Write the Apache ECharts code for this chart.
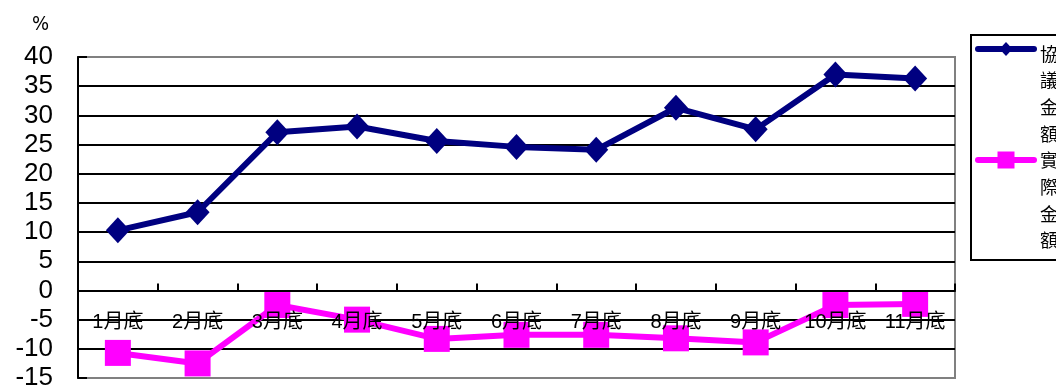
<!DOCTYPE html>
<html>
<head>
<meta charset="utf-8">
<script src="https://cdn.jsdelivr.net/npm/echarts@6/dist/echarts.min.js"></script>
<style>
html,body{margin:0;padding:0;background:#fff;}
#chart{width:1056px;height:390px;}
</style>
</head>
<body>
<div id="chart"></div>
<script>
var categories = ['1月底','2月底','3月底','4月底','5月底','6月底','7月底','8月底','9月底','10月底','11月底'];
var seriesNames = ['協議金額','實際金額'];
var seriesColors = ['#000080', '#FF00FF'];
var agreedValues = [10.3, 13.4, 27.1, 28.1, 25.6, 24.6, 24.1, 31.3, 27.6, 37.0, 36.3];
var actualValues = [-10.7, -12.5, -2.5, -5.0, -8.3, -7.6, -7.6, -8.2, -8.9, -2.5, -2.3];
var yMin = -15, yMax = 40, yStep = 5;
var unitLabel = '%';

var splitColors = [];
for (var v = yMin; v <= yMax; v += yStep) {
  splitColors.push((v === yMin || v === yMax) ? '#808080' : '#000000');
}

function vertical(name) { return name.split('').join('\n'); }

var legendFont = '18px "Noto Sans CJK TC", sans-serif';
var graphics = [
  {type: 'rect', shape: {x: 971, y: 35, width: 120, height: 225},
   style: {fill: '#fff', stroke: '#000', lineWidth: 2}, z: 0},
  // legend item 1
  {type: 'line', shape: {x1: 978, y1: 49, x2: 1034, y2: 49},
   style: {stroke: seriesColors[0], lineWidth: 6, lineCap: 'round'}, z: 1},
  {type: 'polygon', shape: {points: [[1006, 42], [1012.5, 49], [1006, 56], [999.5, 49]]},
   style: {fill: seriesColors[0]}, z: 2},
  {type: 'text', x: 1040, y: 40.5,
   style: {text: vertical(seriesNames[0]), font: legendFont, lineHeight: 26.7, fill: '#000',
           align: 'left', verticalAlign: 'top'}, z: 2},
  // legend item 2
  {type: 'line', shape: {x1: 978, y1: 160, x2: 1034, y2: 160},
   style: {stroke: seriesColors[1], lineWidth: 6, lineCap: 'round'}, z: 1},
  {type: 'rect', shape: {x: 997.5, y: 151.5, width: 17, height: 17},
   style: {fill: seriesColors[1]}, z: 2},
  {type: 'text', x: 1040, y: 147,
   style: {text: vertical(seriesNames[1]), font: legendFont, lineHeight: 26.7, fill: '#000',
           align: 'left', verticalAlign: 'top'}, z: 2}
];

var chart = echarts.init(document.getElementById('chart'));
chart.setOption({
  animation: false,
  backgroundColor: '#ffffff',
  title: {
    text: unitLabel,
    left: 27, top: 10,
    textStyle: {fontSize: 20, fontWeight: 'normal', color: '#000',
      fontFamily: '"Liberation Sans Narrow", "DejaVu Sans Condensed", sans-serif'}
  },
  legend: {show: false, data: seriesNames},
  graphic: graphics,
  grid: {
    left: 78, right: 101, top: 57, bottom: 12,
    outerBoundsMode: 'none',
    containLabel: false,
    show: true, borderColor: '#808080', borderWidth: 2, backgroundColor: 'transparent'
  },
  xAxis: {
    type: 'category',
    data: categories,
    boundaryGap: true,
    z: 10,
    axisLine: {onZero: true, lineStyle: {color: '#000', width: 2}},
    axisTick: {show: true, inside: true, length: 7, lineStyle: {color: '#000', width: 2}},
    axisLabel: {margin: -66, fontSize: 20, color: '#000', interval: 0,
      fontFamily: '"Liberation Sans", "Noto Sans CJK TC", sans-serif'},
    splitLine: {show: false}
  },
  yAxis: {
    type: 'value',
    min: yMin, max: yMax, interval: yStep,
    axisLine: {show: true, lineStyle: {color: '#000', width: 2}},
    axisTick: {show: true, inside: true, length: 9, lineStyle: {color: '#000', width: 2}},
    axisLabel: {margin: 25, fontSize: 26, color: '#000',
      fontFamily: '"Liberation Sans", Arial, sans-serif'},
    splitLine: {show: true, lineStyle: {color: splitColors, width: 2}}
  },
  series: [
    {
      name: seriesNames[0],
      type: 'line',
      data: agreedValues,
      symbol: 'diamond',
      symbolSize: [24, 26],
      color: seriesColors[0],
      lineStyle: {color: seriesColors[0], width: 6},
      itemStyle: {color: seriesColors[0]}
    },
    {
      name: seriesNames[1],
      type: 'line',
      data: actualValues,
      symbol: 'rect',
      symbolSize: 26,
      color: seriesColors[1],
      lineStyle: {color: seriesColors[1], width: 6},
      itemStyle: {color: seriesColors[1]}
    }
  ]
});
</script>
</body>
</html>
